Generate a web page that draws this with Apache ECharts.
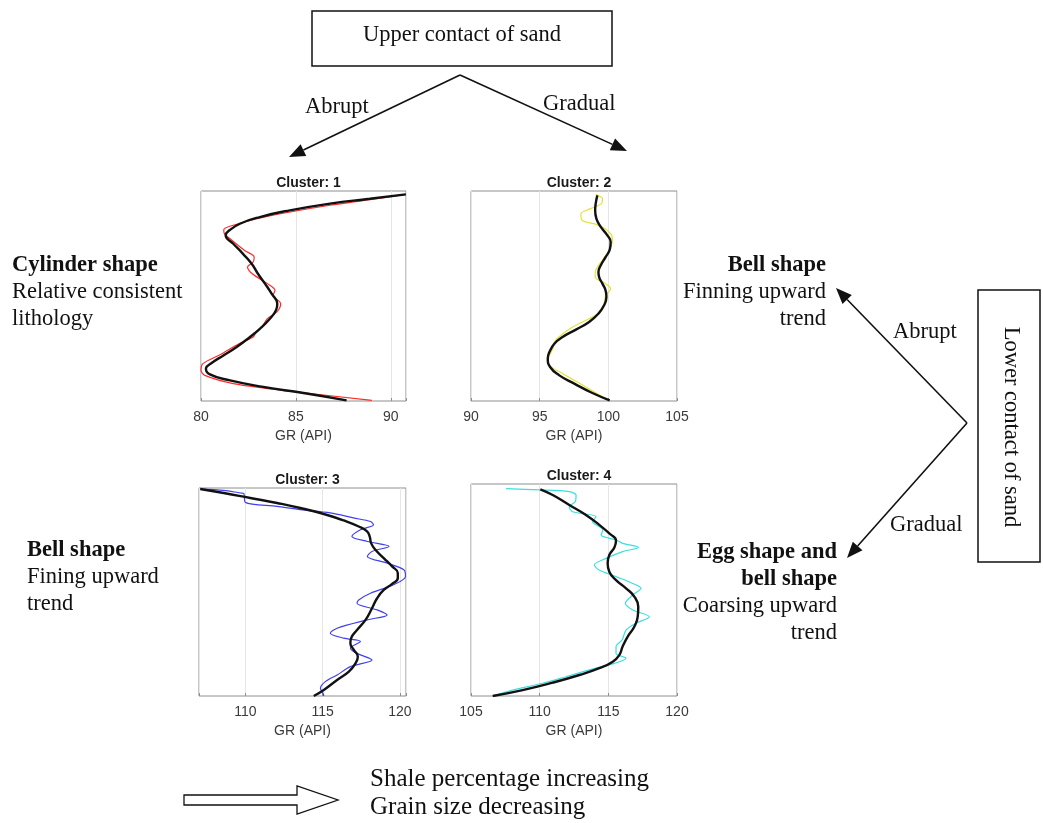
<!DOCTYPE html>
<html>
<head>
<meta charset="utf-8">
<script src="https://cdn.jsdelivr.net/npm/echarts@6/dist/echarts.min.js"></script>
<style>
html, body { margin: 0; padding: 0; background: #fff; }
#chart { width: 1043px; height: 823px; }
</style>
</head>
<body>
<div id="chart"></div>
<script>
// Normalised depth through the sand body (0 = top, 100 = base) and GR readings (API).
// "Profile" = cluster mean log, "Trend" = smoothed fit.
const c1ProfileDepth = [1.6, 4.1, 6.8, 10.0, 13.2, 16.3, 18.4, 20.3, 22.7, 28.3, 31.4, 33.8, 36.2, 39.4, 44.1, 47.3, 49.7, 53.7, 57.6, 60.8, 64.8, 67.1, 69.5, 72.7, 77.5, 82.2, 85.4, 87.8, 91.7, 94.9, 99.7];
const c1ProfileGR = [90.79, 88.9, 86.8, 84.7, 82.95, 81.7, 81.2, 81.23, 81.53, 82.3, 82.8, 82.75, 82.45, 82.7, 83.5, 83.9, 83.8, 84.2, 84.0, 83.5, 83.2, 82.9, 82.75, 82.0, 81.1, 80.1, 80.0, 80.2, 81.7, 84.3, 89.0];
const c1TrendDepth = [1.6, 3.7, 6.0, 9.2, 12.4, 15.6, 18.7, 21.1, 25.1, 29.8, 34.6, 39.4, 44.1, 48.9, 53.7, 56.8, 60.8, 65.6, 69.5, 74.3, 78.3, 81.9, 84.6, 87.3, 90.2, 93.3, 96.2, 99.7];
const c1TrendGR = [90.79, 88.9, 86.8, 84.68, 83.1, 82.05, 81.5, 81.3, 81.7, 82.2, 82.67, 83.0, 83.37, 83.72, 84.02, 83.95, 83.63, 83.1, 82.58, 81.88, 81.18, 80.56, 80.26, 80.47, 81.53, 83.28, 85.4, 87.67];

const c2ProfileDepth = [1.6, 3.7, 6.0, 8.4, 10.8, 14.0, 16.3, 20.3, 23.5, 28.3, 33.0, 37.8, 41.0, 44.1, 46.5, 49.7, 53.7, 57.6, 60.8, 64.8, 69.5, 71.9, 74.3, 79.0, 82.2, 87.0, 93.3, 99.7];
const c2ProfileGR = [99.08, 99.57, 99.5, 98.7, 98.0, 98.1, 99.3, 100.17, 100.3, 100.05, 99.57, 99.08, 99.04, 99.8, 100.17, 99.8, 99.7, 99.45, 98.6, 97.4, 96.4, 96.07, 96.0, 95.66, 95.6, 96.7, 98.36, 100.0];
const c2TrendDepth = [2.1, 6.0, 9.2, 13.2, 17.1, 21.1, 24.3, 27.5, 31.4, 35.4, 38.6, 41.0, 44.1, 47.6, 50.5, 54.4, 58.4, 62.4, 66.0, 69.5, 72.7, 76.7, 79.8, 83.8, 87.8, 91.7, 96.2, 99.7];
const c2TrendGR = [99.2, 99.08, 99.04, 99.13, 99.45, 99.93, 100.17, 100.12, 99.81, 99.45, 99.28, 99.33, 99.57, 99.81, 99.86, 99.69, 99.28, 98.6, 97.64, 96.67, 96.07, 95.71, 95.59, 95.76, 96.43, 97.52, 98.84, 100.1];

const c3ProfileDepth = [0.5, 1.1, 2.4, 2.6, 6.9, 8.8, 10.4, 12.0, 14.4, 16.1, 17.7, 20.1, 23.3, 25.7, 28.1, 30.5, 32.9, 36.1, 39.3, 42.5, 46.5, 50.6, 53.8, 55.4, 58.6, 61.0, 63.4, 67.4, 69.8, 72.2, 73.8, 77.0, 79.5, 82.7, 85.9, 89.9, 93.1, 96.3, 98.7, 100];
const c3ProfileGR = [107.08, 108.6, 109.68, 109.9, 110.0, 112.05, 113.56, 115.5, 117.0, 118.1, 118.3, 117.45, 116.9, 117.9, 119.3, 118.2, 117.9, 119.18, 120.26, 120.37, 119.6, 118.1, 117.34, 117.23, 118.53, 119.18, 117.9, 115.94, 115.5, 116.37, 117.45, 116.8, 117.23, 118.2, 116.8, 115.94, 115.18, 114.86, 115.03, 115.08];
const c3TrendDepth = [0.5, 2.4, 4.8, 7.2, 9.6, 12.5, 15.6, 18.5, 20.9, 23.6, 26.5, 29.7, 33.7, 37.7, 40.9, 43.3, 46.1, 49.0, 53.0, 57.8, 63.4, 68.2, 72.2, 74.6, 77.8, 81.1, 84.3, 88.3, 92.3, 97.1, 100];
const c3TrendGR = [107.08, 108.6, 110.32, 112.05, 113.56, 115.08, 116.37, 117.34, 117.88, 118.06, 118.14, 118.42, 118.96, 119.5, 119.87, 119.87, 119.5, 118.96, 118.53, 118.2, 117.78, 117.24, 116.85, 116.8, 117.02, 117.28, 117.13, 116.7, 115.94, 115.08, 114.43];

const c4ProfileDepth = [2.2, 2.8, 3.6, 5.2, 8.3, 10.7, 13.1, 15.4, 17.8, 21.7, 24.1, 26.4, 28.0, 29.9, 31.9, 35.1, 38.2, 40.6, 43.7, 46.9, 49.2, 52.4, 56.3, 59.4, 62.6, 65.7, 68.9, 73.6, 76.7, 79.9, 82.2, 84.6, 87.7, 90.9, 94.0, 97.2, 100];
const c4ProfileGR = [107.55, 110.0, 112.16, 112.65, 112.6, 112.16, 112.4, 114.1, 113.86, 114.6, 114.47, 115.56, 116.04, 117.2, 116.04, 114.83, 113.98, 114.34, 115.56, 116.77, 117.38, 116.77, 116.24, 116.77, 117.99, 117.01, 116.29, 116.0, 115.56, 115.56, 116.29, 115.44, 113.62, 111.92, 110.22, 108.03, 106.58];
const c4TrendDepth = [2.5, 5.2, 9.9, 14.6, 19.3, 23.3, 26.7, 29.9, 33.5, 37.4, 41.4, 45.3, 49.2, 53.1, 57.9, 62.6, 67.3, 72.0, 76.7, 80.7, 83.8, 86.9, 90.1, 93.7, 97.2, 100];
const c4TrendGR = [110.05, 110.95, 112.16, 113.37, 114.34, 115.07, 115.56, 115.44, 115.07, 114.95, 115.07, 115.56, 116.29, 116.89, 117.18, 117.14, 116.89, 116.41, 116.04, 115.8, 115.32, 114.34, 112.89, 110.95, 108.76, 106.58];

const clusterTitles = ['Cluster: 1', 'Cluster: 2', 'Cluster: 3', 'Cluster: 4'];
const profileColors = ['#ff2a2a', '#e2e236', '#4040f0', '#3ddede'];
const axisName = 'GR (API)';

const profiles = [
  [c1ProfileGR, c1ProfileDepth], [c2ProfileGR, c2ProfileDepth],
  [c3ProfileGR, c3ProfileDepth], [c4ProfileGR, c4ProfileDepth]
];
const trends = [
  [c1TrendGR, c1TrendDepth], [c2TrendGR, c2TrendDepth],
  [c3TrendGR, c3TrendDepth], [c4TrendGR, c4TrendDepth]
];

// panel layout (pixels) and GR ranges
const panels = [
  { left: 201, top: 191, width: 205, height: 210, min: 80, max: 90.8, interval: 5 },
  { left: 471, top: 191, width: 206, height: 210, min: 90, max: 105, interval: 5 },
  { left: 199, top: 488, width: 207, height: 208, min: 107, max: 120.4, splitNumber: 3 },
  { left: 471, top: 484, width: 206, height: 212, min: 105, max: 120, interval: 5 }
];

const pair = (xs, ys) => xs.map((v, i) => [v, ys[i]]);

const grids = panels.map(p => ({
  left: p.left, top: p.top, width: p.width, height: p.height,
  show: true, borderColor: '#8e8e8e', borderWidth: 1, backgroundColor: '#fff'
}));

const xAxes = panels.map((p, i) => {
  const ax = {
    type: 'value', gridIndex: i, position: 'bottom', min: p.min, max: p.max,
    name: axisName, nameLocation: 'middle', nameGap: 28,
    nameTextStyle: { fontFamily: 'Liberation Sans', fontSize: 14, color: '#3a3a3a' },
    axisLine: { show: false, onZero: false },
    axisTick: { show: true, inside: true, length: 3, lineStyle: { color: '#8e8e8e' } },
    axisLabel: {
      fontFamily: 'Liberation Sans', fontSize: 14, color: '#3a3a3a', margin: 9,
      formatter: v => (Math.abs(v % 5) < 1e-6 ? String(Math.round(v)) : '')
    },
    splitLine: { show: true, lineStyle: { color: '#e6e6e6', width: 1 } }
  };
  if (p.interval) ax.interval = p.interval;
  if (p.splitNumber) ax.splitNumber = p.splitNumber;
  return ax;
});

const yAxes = panels.map((p, i) => ({
  type: 'value', gridIndex: i, min: 0, max: 100, inverse: true,
  axisLine: { show: false, onZero: false }, axisTick: { show: false },
  axisLabel: { show: false }, splitLine: { show: false }
}));

const series = [];
profiles.forEach((pr, i) => {
  series.push({
    type: 'line', xAxisIndex: i, yAxisIndex: i, data: pair(pr[0], pr[1]),
    showSymbol: false, symbol: 'none', smooth: 0.3,
    lineStyle: { color: profileColors[i], width: 1.2 }, z: 2, silent: true
  });
});
trends.forEach((tr, i) => {
  series.push({
    type: 'line', xAxisIndex: i, yAxisIndex: i, data: pair(tr[0], tr[1]),
    showSymbol: false, symbol: 'none', smooth: 0.5,
    lineStyle: { color: '#111', width: 2.4 }, z: 3, silent: true
  });
});

const titles = panels.map((p, i) => ({
  text: clusterTitles[i],
  left: p.left + p.width / 2, top: p.top - 20, textAlign: 'center',
  textStyle: { fontFamily: 'Liberation Sans', fontWeight: 'bold', fontSize: 14, color: '#1a1a1a' }
}));

// diagram annotations
const SERIF = 'Liberation Serif';
function label(text, x, y, opts) {
  opts = opts || {};
  return {
    type: 'text', x: x, y: y, rotation: opts.rotation || 0,
    style: {
      text: text, fill: '#111', fontFamily: SERIF, fontSize: opts.size || 22.5,
      fontWeight: opts.bold ? 'bold' : 'normal',
      textAlign: opts.align || 'left', textVerticalAlign: 'middle'
    }
  };
}
function arrow(x1, y1, x2, y2) {
  const ang = Math.atan2(y2 - y1, x2 - x1);
  const len = 16, half = 6.5;
  const bx = x2 - len * Math.cos(ang), by = y2 - len * Math.sin(ang);
  const px = -Math.sin(ang) * half, py = Math.cos(ang) * half;
  return [
    { type: 'line', shape: { x1: x1, y1: y1, x2: bx, y2: by }, style: { stroke: '#111', lineWidth: 1.6 } },
    { type: 'polygon', shape: { points: [[x2, y2], [bx + px, by + py], [bx - px, by - py]] }, style: { fill: '#111' } }
  ];
}

const graphics = [
  { type: 'rect', shape: { x: 312, y: 11, width: 300, height: 55 }, style: { fill: '#fff', stroke: '#111', lineWidth: 1.5 } },
  label('Upper contact of sand', 462, 35, { align: 'center' }),
  ...arrow(460, 75, 289, 157),
  ...arrow(460, 75, 627, 151),
  label('Abrupt', 305, 107),
  label('Gradual', 543, 104),

  { type: 'rect', shape: { x: 978, y: 290, width: 62, height: 272 }, style: { fill: '#fff', stroke: '#111', lineWidth: 1.5 } },
  label('Lower contact of sand', 1011, 427, { align: 'center', rotation: -Math.PI / 2 }),
  ...arrow(967, 423, 836, 288),
  ...arrow(967, 423, 847, 558),
  label('Abrupt', 893, 332),
  label('Gradual', 890, 525),

  label('Cylinder shape', 12, 265, { bold: true }),
  label('Relative consistent', 12, 292),
  label('lithology', 12, 319),

  label('Bell shape', 27, 550, { bold: true }),
  label('Fining upward', 27, 577),
  label('trend', 27, 604),

  label('Bell shape', 826, 265, { bold: true, align: 'right' }),
  label('Finning upward', 826, 292, { align: 'right' }),
  label('trend', 826, 319, { align: 'right' }),

  label('Egg shape and', 837, 552, { bold: true, align: 'right' }),
  label('bell shape', 837, 579, { bold: true, align: 'right' }),
  label('Coarsing upward', 837, 606, { align: 'right' }),
  label('trend', 837, 633, { align: 'right' }),

  { type: 'polygon', shape: { points: [[184, 795], [297, 795], [297, 786], [338, 800], [297, 814], [297, 805], [184, 805]] },
    style: { fill: '#fff', stroke: '#111', lineWidth: 1.3 } },
  label('Shale percentage increasing', 370, 779, { size: 25 }),
  label('Grain size decreasing', 370, 807, { size: 25 })
];

const chart = echarts.init(document.getElementById('chart'), null, { renderer: 'canvas' });
chart.setOption({
  animation: false,
  backgroundColor: '#fff',
  title: titles,
  grid: grids,
  xAxis: xAxes,
  yAxis: yAxes,
  series: series,
  graphic: graphics
});
</script>
</body>
</html>
